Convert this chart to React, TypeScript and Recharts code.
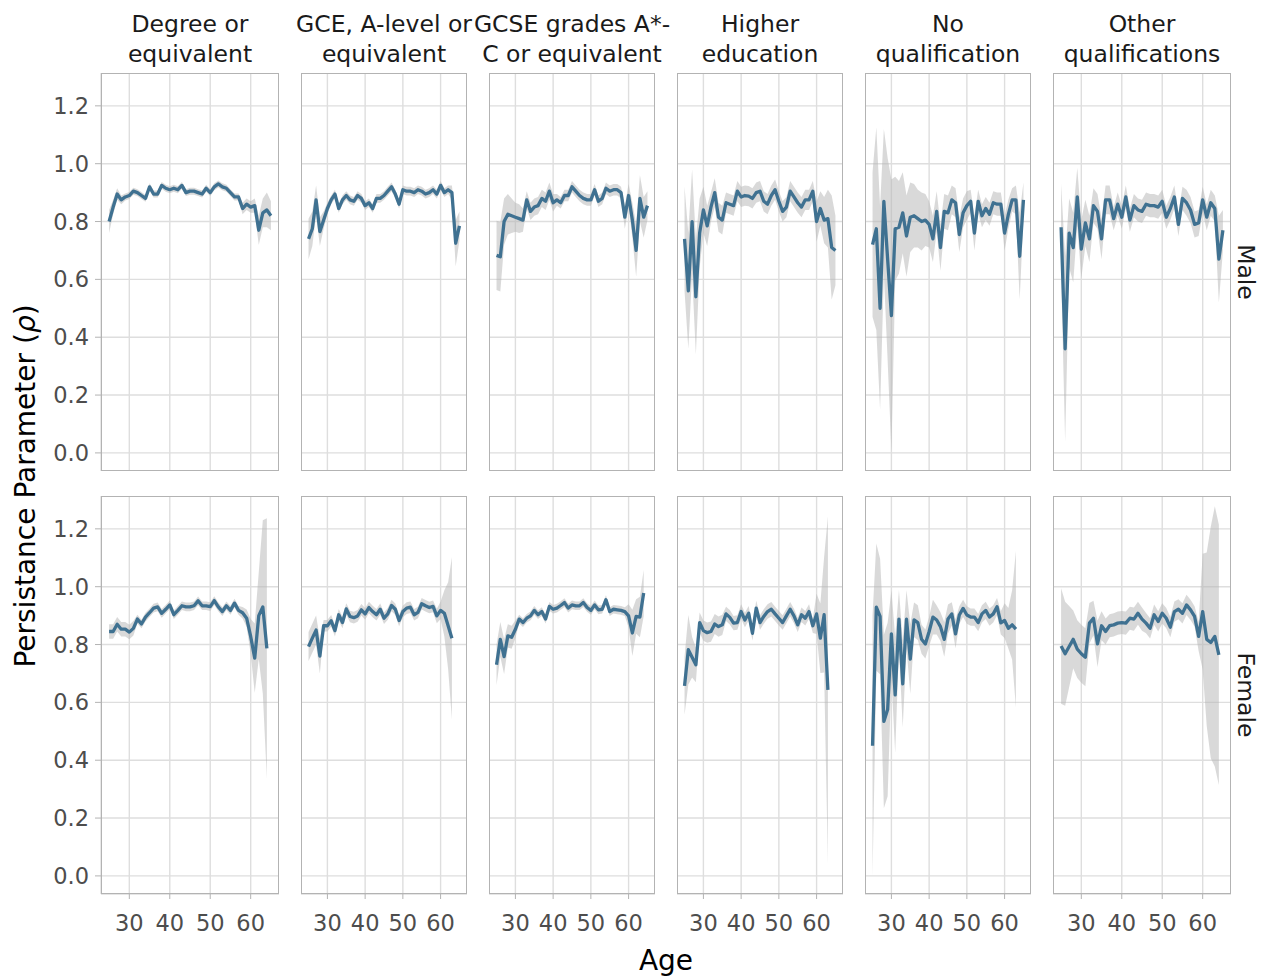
import React from 'react';
import { ComposedChart, Area, Line, XAxis, YAxis, CartesianGrid } from 'recharts';

const AGES = [
  25, 26, 27, 28, 29, 30, 31, 32, 33, 34, 35, 36, 37, 38, 39, 40, 41, 42, 43, 44, 45,
  46, 47, 48, 49, 50, 51, 52, 53, 54, 55, 56, 57, 58, 59, 60, 61, 62, 63, 64, 65,
];

const QUALIFICATIONS = [
  ['Degree or', 'equivalent'],
  ['GCE, A-level or', 'equivalent'],
  ['GCSE grades A*-', 'C or equivalent'],
  ['Higher', 'education'],
  ['No', 'qualification'],
  ['Other', 'qualifications'],
];
const SEXES = ['Male', 'Female'];

const X_TICKS = [30, 40, 50, 60];
const Y_TICKS = [0, 0.2, 0.4, 0.6, 0.8, 1.0, 1.2];

// rho estimate per age, and half-width of its 95% band
const maleDegreeRho = [0.80, 0.85, 0.895, 0.875, 0.885, 0.89, 0.905, 0.90, 0.89, 0.88, 0.92, 0.895, 0.895, 0.925, 0.915, 0.91, 0.915, 0.91, 0.925, 0.90, 0.905, 0.905, 0.90, 0.895, 0.915, 0.90, 0.92, 0.93, 0.92, 0.915, 0.90, 0.885, 0.885, 0.845, 0.86, 0.85, 0.855, 0.77, 0.83, 0.84, 0.82];
const maleDegreeErr = [0.04, 0.025, 0.02, 0.015, 0.012, 0.012, 0.012, 0.012, 0.012, 0.012, 0.012, 0.012, 0.012, 0.012, 0.012, 0.012, 0.012, 0.012, 0.012, 0.012, 0.012, 0.012, 0.012, 0.012, 0.012, 0.012, 0.012, 0.012, 0.012, 0.012, 0.012, 0.012, 0.012, 0.02, 0.02, 0.02, 0.025, 0.05, 0.05, 0.06, 0.05];

const maleGceRho = [0.74, 0.775, 0.875, 0.765, 0.805, 0.845, 0.875, 0.895, 0.845, 0.875, 0.89, 0.875, 0.87, 0.89, 0.88, 0.855, 0.865, 0.845, 0.88, 0.88, 0.89, 0.905, 0.92, 0.895, 0.86, 0.91, 0.905, 0.905, 0.90, 0.91, 0.905, 0.895, 0.90, 0.91, 0.895, 0.925, 0.90, 0.91, 0.90, 0.725, 0.785];
const maleGceErr = [0.07, 0.06, 0.05, 0.05, 0.03, 0.02, 0.015, 0.015, 0.015, 0.015, 0.015, 0.015, 0.015, 0.015, 0.015, 0.015, 0.015, 0.015, 0.015, 0.015, 0.015, 0.015, 0.015, 0.015, 0.015, 0.015, 0.015, 0.015, 0.015, 0.015, 0.015, 0.015, 0.015, 0.015, 0.015, 0.015, 0.015, 0.015, 0.025, 0.08, 0.05];

const maleGcseRho = [0.683, 0.678, 0.80, 0.825, 0.82, 0.815, 0.81, 0.805, 0.875, 0.835, 0.85, 0.855, 0.88, 0.87, 0.905, 0.865, 0.875, 0.865, 0.89, 0.89, 0.92, 0.905, 0.89, 0.88, 0.875, 0.875, 0.91, 0.87, 0.88, 0.915, 0.905, 0.91, 0.91, 0.90, 0.815, 0.89, 0.805, 0.70, 0.88, 0.815, 0.855];
const maleGcseErr = [0.12, 0.12, 0.08, 0.07, 0.06, 0.05, 0.05, 0.04, 0.03, 0.03, 0.03, 0.03, 0.03, 0.03, 0.03, 0.03, 0.02, 0.02, 0.02, 0.02, 0.02, 0.02, 0.02, 0.02, 0.02, 0.02, 0.02, 0.02, 0.02, 0.02, 0.02, 0.02, 0.02, 0.02, 0.04, 0.04, 0.06, 0.09, 0.08, 0.07, 0.05];

const maleHigherRho = [0.74, 0.56, 0.80, 0.54, 0.76, 0.84, 0.785, 0.85, 0.90, 0.815, 0.805, 0.865, 0.86, 0.855, 0.905, 0.885, 0.89, 0.888, 0.88, 0.90, 0.905, 0.87, 0.86, 0.89, 0.91, 0.87, 0.835, 0.85, 0.905, 0.885, 0.865, 0.85, 0.875, 0.875, 0.905, 0.80, 0.845, 0.805, 0.81, 0.71, 0.70];
const maleHigherErr = [0.18, 0.2, 0.18, 0.2, 0.12, 0.08, 0.07, 0.05, 0.05, 0.05, 0.05, 0.035, 0.035, 0.035, 0.035, 0.035, 0.035, 0.035, 0.035, 0.035, 0.035, 0.035, 0.035, 0.035, 0.035, 0.035, 0.035, 0.035, 0.035, 0.035, 0.035, 0.035, 0.035, 0.035, 0.035, 0.07, 0.06, 0.08, 0.1, 0.18, 0.12];

const maleNoQualRho = [0.72, 0.775, 0.50, 0.87, 0.67, 0.475, 0.775, 0.78, 0.83, 0.75, 0.815, 0.82, 0.81, 0.80, 0.805, 0.79, 0.74, 0.835, 0.71, 0.835, 0.83, 0.875, 0.865, 0.755, 0.83, 0.855, 0.87, 0.76, 0.87, 0.82, 0.845, 0.825, 0.865, 0.86, 0.86, 0.76, 0.825, 0.875, 0.875, 0.68, 0.875];
const maleNoQualErr = [0.25, 0.35, 0.35, 0.25, 0.35, 0.47, 0.18, 0.16, 0.14, 0.14, 0.12, 0.11, 0.10, 0.10, 0.09, 0.08, 0.08, 0.07, 0.08, 0.06, 0.06, 0.05, 0.05, 0.06, 0.05, 0.05, 0.04, 0.06, 0.04, 0.04, 0.04, 0.04, 0.04, 0.04, 0.04, 0.06, 0.05, 0.04, 0.05, 0.15, 0.06];

const maleOtherRho = [0.78, 0.36, 0.76, 0.71, 0.885, 0.705, 0.795, 0.74, 0.855, 0.835, 0.74, 0.875, 0.875, 0.81, 0.86, 0.815, 0.885, 0.805, 0.855, 0.84, 0.835, 0.86, 0.855, 0.855, 0.85, 0.87, 0.815, 0.845, 0.885, 0.79, 0.88, 0.865, 0.84, 0.79, 0.795, 0.875, 0.815, 0.865, 0.845, 0.67, 0.77];
const maleOtherErr = [0.15, 0.32, 0.12, 0.12, 0.1, 0.1, 0.08, 0.08, 0.06, 0.06, 0.07, 0.05, 0.05, 0.04, 0.04, 0.04, 0.04, 0.04, 0.04, 0.04, 0.04, 0.04, 0.04, 0.04, 0.04, 0.04, 0.04, 0.04, 0.04, 0.04, 0.04, 0.045, 0.045, 0.045, 0.045, 0.045, 0.045, 0.045, 0.045, 0.15, 0.07];

const femaleDegreeRho = [0.845, 0.845, 0.87, 0.853, 0.853, 0.843, 0.856, 0.888, 0.871, 0.895, 0.91, 0.926, 0.93, 0.908, 0.922, 0.937, 0.903, 0.918, 0.934, 0.93, 0.93, 0.934, 0.951, 0.934, 0.934, 0.931, 0.952, 0.93, 0.914, 0.934, 0.918, 0.943, 0.918, 0.91, 0.891, 0.828, 0.753, 0.90, 0.93, 0.787];
const femaleDegreeErr = [0.025, 0.025, 0.025, 0.025, 0.025, 0.025, 0.025, 0.015, 0.015, 0.015, 0.015, 0.015, 0.015, 0.015, 0.015, 0.015, 0.015, 0.015, 0.015, 0.015, 0.015, 0.015, 0.015, 0.015, 0.015, 0.015, 0.015, 0.015, 0.015, 0.015, 0.015, 0.015, 0.015, 0.02, 0.03, 0.06, 0.12, 0.15, 0.3, 0.45];

const femaleGceRho = [0.793, 0.822, 0.85, 0.76, 0.865, 0.865, 0.882, 0.848, 0.903, 0.876, 0.923, 0.897, 0.893, 0.899, 0.92, 0.906, 0.928, 0.914, 0.903, 0.922, 0.891, 0.906, 0.935, 0.922, 0.883, 0.914, 0.926, 0.929, 0.903, 0.911, 0.941, 0.934, 0.928, 0.932, 0.899, 0.918, 0.908, 0.865, 0.822];
const femaleGceErr = [0.05, 0.05, 0.05, 0.06, 0.02, 0.02, 0.02, 0.02, 0.02, 0.02, 0.02, 0.02, 0.02, 0.02, 0.02, 0.02, 0.02, 0.02, 0.02, 0.02, 0.02, 0.02, 0.02, 0.02, 0.02, 0.02, 0.02, 0.02, 0.02, 0.02, 0.02, 0.02, 0.02, 0.02, 0.025, 0.03, 0.08, 0.15, 0.28];

const femaleGcseRho = [0.73, 0.818, 0.758, 0.83, 0.825, 0.853, 0.888, 0.876, 0.891, 0.899, 0.918, 0.903, 0.914, 0.888, 0.932, 0.922, 0.926, 0.935, 0.945, 0.926, 0.937, 0.934, 0.934, 0.945, 0.928, 0.918, 0.937, 0.92, 0.922, 0.955, 0.914, 0.922, 0.92, 0.918, 0.914, 0.899, 0.84, 0.897, 0.895, 0.978];
const femaleGcseErr = [0.07, 0.06, 0.06, 0.04, 0.04, 0.03, 0.015, 0.015, 0.015, 0.015, 0.015, 0.015, 0.015, 0.015, 0.015, 0.015, 0.015, 0.015, 0.015, 0.015, 0.015, 0.015, 0.015, 0.015, 0.015, 0.015, 0.015, 0.015, 0.015, 0.015, 0.015, 0.015, 0.015, 0.015, 0.015, 0.04, 0.08, 0.06, 0.07, 0.08];

const femaleHigherRho = [0.657, 0.782, 0.756, 0.73, 0.876, 0.848, 0.841, 0.845, 0.871, 0.862, 0.868, 0.906, 0.894, 0.874, 0.876, 0.914, 0.885, 0.908, 0.839, 0.926, 0.876, 0.897, 0.914, 0.922, 0.906, 0.891, 0.876, 0.899, 0.922, 0.899, 0.868, 0.903, 0.891, 0.914, 0.865, 0.906, 0.822, 0.903, 0.643];
const femaleHigherErr = [0.1, 0.12, 0.07, 0.06, 0.035, 0.035, 0.035, 0.035, 0.035, 0.035, 0.035, 0.025, 0.025, 0.025, 0.025, 0.025, 0.025, 0.025, 0.025, 0.025, 0.025, 0.025, 0.025, 0.025, 0.025, 0.025, 0.025, 0.025, 0.025, 0.025, 0.025, 0.025, 0.025, 0.025, 0.025, 0.07, 0.12, 0.2, 0.6];

const femaleNoQualRho = [0.45, 0.929, 0.897, 0.534, 0.575, 0.837, 0.626, 0.888, 0.664, 0.888, 0.75, 0.885, 0.876, 0.818, 0.802, 0.845, 0.895, 0.885, 0.862, 0.818, 0.888, 0.906, 0.837, 0.902, 0.925, 0.902, 0.895, 0.895, 0.876, 0.906, 0.918, 0.895, 0.906, 0.931, 0.875, 0.883, 0.856, 0.868, 0.853];
const femaleNoQualErr = [0.45, 0.22, 0.2, 0.3, 0.3, 0.15, 0.2, 0.1, 0.15, 0.1, 0.12, 0.06, 0.06, 0.05, 0.05, 0.05, 0.06, 0.05, 0.05, 0.06, 0.05, 0.04, 0.05, 0.03, 0.03, 0.03, 0.03, 0.03, 0.03, 0.03, 0.03, 0.03, 0.03, 0.03, 0.04, 0.06, 0.07, 0.12, 0.27];

const femaleOtherRho = [0.795, 0.768, 0.793, 0.818, 0.784, 0.768, 0.756, 0.874, 0.891, 0.802, 0.865, 0.845, 0.865, 0.868, 0.874, 0.876, 0.874, 0.891, 0.888, 0.908, 0.888, 0.874, 0.856, 0.903, 0.88, 0.908, 0.891, 0.86, 0.914, 0.922, 0.908, 0.937, 0.92, 0.897, 0.828, 0.914, 0.818, 0.807, 0.828, 0.764];
const femaleOtherErr = [0.2, 0.18, 0.14, 0.1, 0.1, 0.1, 0.1, 0.07, 0.06, 0.08, 0.05, 0.045, 0.04, 0.04, 0.04, 0.04, 0.04, 0.04, 0.04, 0.04, 0.04, 0.035, 0.035, 0.035, 0.035, 0.035, 0.035, 0.035, 0.035, 0.035, 0.035, 0.035, 0.035, 0.035, 0.05, 0.2, 0.3, 0.4, 0.45, 0.45];

const SERIES = [
  [
    [maleDegreeRho, maleDegreeErr],
    [maleGceRho, maleGceErr],
    [maleGcseRho, maleGcseErr],
    [maleHigherRho, maleHigherErr],
    [maleNoQualRho, maleNoQualErr],
    [maleOtherRho, maleOtherErr],
  ],
  [
    [femaleDegreeRho, femaleDegreeErr],
    [femaleGceRho, femaleGceErr],
    [femaleGcseRho, femaleGcseErr],
    [femaleHigherRho, femaleHigherErr],
    [femaleNoQualRho, femaleNoQualErr],
    [femaleOtherRho, femaleOtherErr],
  ],
];

// facet geometry
const COL_X = [101, 301, 489, 677, 865, 1053];
const COL_W = [178, 166, 166, 166, 166, 178];
const ROW_Y = [73, 496];
const PANEL_H = 398;
const X_DOMAIN = [23, 67];
const Y_DOMAIN = [-0.0626, 1.3136];

const FONT = '"DejaVu Sans", Verdana, sans-serif';
const LINE_COLOR = '#3f7191';
const GRID_COLOR = '#dedede';
const BORDER_COLOR = '#b3b3b3';
const TICK = { fontFamily: FONT, fontSize: 22.5, fill: '#4d4d4d' };

function Panel({ row, col }: { row: number; col: number }) {
  const [rho, err] = SERIES[row][col];
  const data = rho.map((r, i) => ({ age: AGES[i], rho: r, band: [r - err[i], r + err[i]] }));
  const showY = col === 0;
  const showX = row === 1;
  const yw = showY ? 60 : 0;
  const xh = showX ? 50 : 0;

  return (
    <>
      <div style={{ position: 'absolute', left: COL_X[col] - yw, top: ROW_Y[row] }}>
        <ComposedChart
          width={COL_W[col] + yw}
          height={PANEL_H + xh}
          data={data}
          margin={{ top: 0, right: 0, bottom: 0, left: 0 }}
        >
          <CartesianGrid stroke={GRID_COLOR} strokeWidth={1.4} />
          <XAxis
            type="number"
            dataKey="age"
            domain={X_DOMAIN}
            ticks={X_TICKS}
            interval={0}
            allowDataOverflow
            hide={!showX}
            height={xh}
            axisLine={false}
            tickLine={{ stroke: BORDER_COLOR }}
            tickSize={5}
            tickMargin={16}
            tick={TICK}
          />
          <YAxis
            type="number"
            domain={Y_DOMAIN}
            ticks={Y_TICKS}
            interval={0}
            allowDataOverflow
            hide={!showY}
            width={yw}
            axisLine={false}
            tickLine={{ stroke: BORDER_COLOR }}
            tickSize={6}
            tickMargin={6}
            tick={TICK}
            tickFormatter={(v: number) => v.toFixed(1)}
          />
          <Area
            type="linear"
            dataKey="band"
            stroke="none"
            fill="#b3b3b3"
            fillOpacity={0.5}
            isAnimationActive={false}
          />
          <Line
            type="linear"
            dataKey="rho"
            stroke={LINE_COLOR}
            strokeWidth={3.3}
            strokeLinejoin="round"
            dot={false}
            isAnimationActive={false}
          />
        </ComposedChart>
      </div>
      <div
        style={{
          position: 'absolute',
          left: COL_X[col],
          top: ROW_Y[row],
          width: COL_W[col],
          height: PANEL_H,
          border: `1px solid ${BORDER_COLOR}`,
          boxSizing: 'border-box',
          pointerEvents: 'none',
        }}
      />
    </>
  );
}

export default function App() {
  return (
    <div
      style={{
        position: 'absolute',
        left: 0,
        top: 0,
        width: 1266,
        height: 976,
        background: '#fff',
        fontFamily: FONT,
        overflow: 'hidden',
      }}
    >
      {QUALIFICATIONS.map((lines, c) => (
        <div
          key={lines.join(' ')}
          style={{
            position: 'absolute',
            left: COL_X[c] + COL_W[c] / 2,
            top: 9,
            transform: 'translateX(-50%)',
            textAlign: 'center',
            whiteSpace: 'nowrap',
            fontSize: 23.5,
            lineHeight: '30px',
            color: '#1a1a1a',
          }}
        >
          {lines[0]}
          <br />
          {lines[1]}
        </div>
      ))}

      {SEXES.map((s, r) => (
        <div
          key={s}
          style={{
            position: 'absolute',
            left: 1246,
            top: ROW_Y[r] + PANEL_H / 2,
            transform: 'translate(-50%, -50%) rotate(90deg)',
            whiteSpace: 'nowrap',
            fontSize: 23.5,
            color: '#1a1a1a',
          }}
        >
          {s}
        </div>
      ))}

      {SERIES.map((rowSeries, r) =>
        rowSeries.map((_, c) => <Panel key={`${r}-${c}`} row={r} col={c} />)
      )}

      <div
        style={{
          position: 'absolute',
          left: 25,
          top: 486,
          transform: 'translate(-50%, -50%) rotate(-90deg)',
          whiteSpace: 'nowrap',
          fontSize: 28,
          color: '#000',
        }}
      >
        Persistance Parameter (<i>ρ</i>)
      </div>
      <div
        style={{
          position: 'absolute',
          left: 666,
          top: 960,
          transform: 'translate(-50%, -50%)',
          whiteSpace: 'nowrap',
          fontSize: 28,
          color: '#000',
        }}
      >
        Age
      </div>
    </div>
  );
}
